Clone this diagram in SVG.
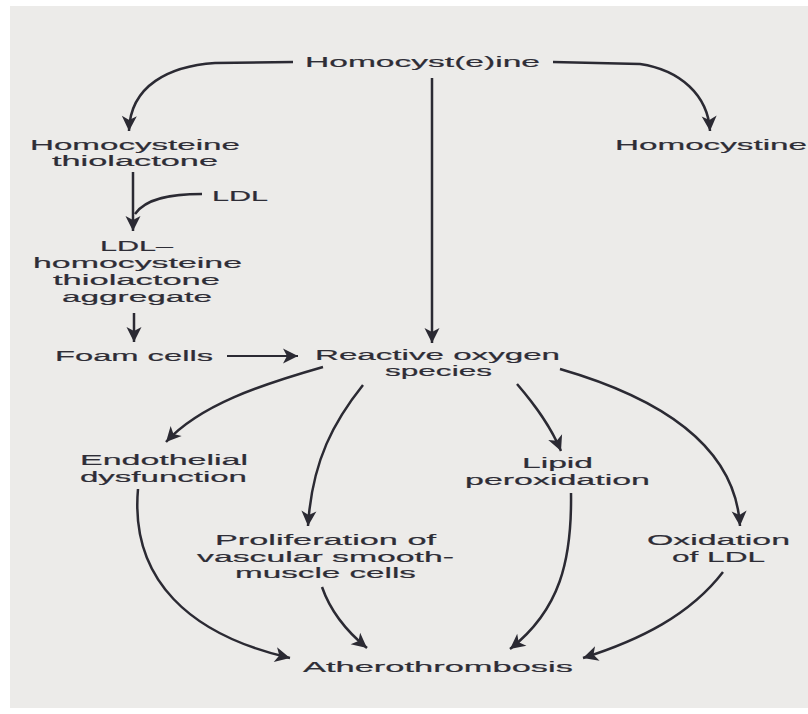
<svg xmlns="http://www.w3.org/2000/svg" width="808" height="714" viewBox="0 0 808 714">
<defs>
<style>
.t{font-family:"Liberation Sans",Arial,sans-serif;font-size:15.5px;fill:#2e2d36;stroke:#2e2d36;stroke-width:0.2;}
.c{fill:none;stroke:#2b2a33;stroke-width:2.5;marker-end:url(#ah);}
</style>
<marker id="ah" markerUnits="userSpaceOnUse" viewBox="-16 -9 18 18" refX="0" refY="0" markerWidth="18" markerHeight="18" orient="auto" overflow="visible">
<path d="M0,0 L-15,-7.5 L-11,0 L-15,7.5 Z" fill="#2b2a33"/>
</marker>
</defs>
<rect x="0" y="0" width="808" height="714" fill="#ffffff"/>
<rect x="10" y="6" width="798" height="702" fill="#ecebe9"/>

<g id="connectors">
<path class="c" d="M293,62 L215,63 C170,66 130,85 129,131"/>
<path class="c" d="M553,62 L640,64 C680,70 708,95 710,131"/>
<path class="c" d="M432,78 L432,343"/>
<path class="c" d="M133,172 L133,231"/>
<path class="c" style="marker-end:none" d="M202,194 C172,194 146,198 135,214"/>
<path class="c" d="M134,313 L134,342"/>
<path class="c" style="stroke-width:2" d="M227,356 L298,356"/>
<path class="c" d="M323,367 C260,385 200,405 166,442"/>
<path class="c" d="M363,385 C335,420 312,460 308,526"/>
<path class="c" d="M517,384 C535,405 550,425 561,451"/>
<path class="c" d="M560,369 C650,395 735,440 740,526"/>
<path class="c" d="M138,489 C130,580 190,635 290,658"/>
<path class="c" d="M322,587 C330,610 345,630 367,648"/>
<path class="c" d="M571,493 C572,560 560,610 510,649"/>
<path class="c" d="M723,572 C690,615 640,640 583,658"/>
</g>

<g id="homocysteine">
<text class="t" x="305" y="67" textLength="235" lengthAdjust="spacingAndGlyphs">Homocyst(e)ine</text>
</g>
<g id="thiolactone">
<text class="t" x="30" y="150" textLength="210" lengthAdjust="spacingAndGlyphs">Homocysteine</text>
<text class="t" x="52" y="166" textLength="166" lengthAdjust="spacingAndGlyphs">thiolactone</text>
</g>
<g id="homocystine">
<text class="t" x="615" y="150" textLength="192" lengthAdjust="spacingAndGlyphs">Homocystine</text>
</g>
<g id="ldl">
<text class="t" x="212" y="201" textLength="56" lengthAdjust="spacingAndGlyphs">LDL</text>
</g>
<g id="aggregate">
<text class="t" x="100" y="251" textLength="73" lengthAdjust="spacingAndGlyphs">LDL–</text>
<text class="t" x="33" y="268" textLength="209" lengthAdjust="spacingAndGlyphs">homocysteine</text>
<text class="t" x="53" y="285" textLength="167" lengthAdjust="spacingAndGlyphs">thiolactone</text>
<text class="t" x="62" y="302" textLength="150" lengthAdjust="spacingAndGlyphs">aggregate</text>
</g>
<g id="foam">
<text class="t" x="55" y="361" textLength="158" lengthAdjust="spacingAndGlyphs">Foam cells</text>
</g>
<g id="ros">
<text class="t" x="315" y="360" textLength="245" lengthAdjust="spacingAndGlyphs">Reactive oxygen</text>
<text class="t" x="385" y="376" textLength="107" lengthAdjust="spacingAndGlyphs">species</text>
</g>
<g id="endothelial">
<text class="t" x="80" y="465" textLength="168" lengthAdjust="spacingAndGlyphs">Endothelial</text>
<text class="t" x="80" y="482" textLength="167" lengthAdjust="spacingAndGlyphs">dysfunction</text>
</g>
<g id="lipid">
<text class="t" x="522" y="468" textLength="71" lengthAdjust="spacingAndGlyphs">Lipid</text>
<text class="t" x="465" y="485" textLength="185" lengthAdjust="spacingAndGlyphs">peroxidation</text>
</g>
<g id="proliferation">
<text class="t" x="215" y="545" textLength="221" lengthAdjust="spacingAndGlyphs">Proliferation of</text>
<text class="t" x="197" y="562" textLength="257" lengthAdjust="spacingAndGlyphs">vascular smooth-</text>
<text class="t" x="235" y="578" textLength="181" lengthAdjust="spacingAndGlyphs">muscle cells</text>
</g>
<g id="oxidation">
<text class="t" x="647" y="545" textLength="143" lengthAdjust="spacingAndGlyphs">Oxidation</text>
<text class="t" x="672" y="562" textLength="93" lengthAdjust="spacingAndGlyphs">of LDL</text>
</g>
<g id="atherothrombosis">
<text class="t" x="303" y="672" textLength="270" lengthAdjust="spacingAndGlyphs">Atherothrombosis</text>
</g>
</svg>
